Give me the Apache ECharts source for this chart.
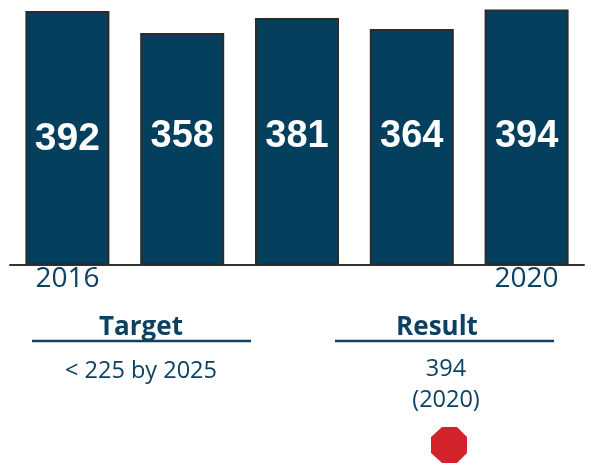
<!DOCTYPE html>
<html><head><meta charset="utf-8">
<style>html,body{margin:0;padding:0;background:#fff}#c{width:592px;height:474px}</style>
<script src="https://cdn.jsdelivr.net/npm/echarts@6/dist/echarts.min.js"></script>
</head><body><div id="c"></div>
<script>
const categories = ['2016','2017','2018','2019','2020'];
const shownYears = ['2016','2020'];
const values = [392,358,381,364,394];
const targetTitle = 'Target';
const targetText = '< 225 by 2025';
const resultTitle = 'Result';
const resultLines = ['394','(2020)'];
const navy = '#053f5e', ink = '#0c4161';
const font = '"Open Sans","Noto Sans",sans-serif';
const labelFont = '"Liberation Sans",Arial,sans-serif';
const chart = echarts.init(document.getElementById('c'), null, {renderer:'canvas'});
const txt = (x,y,text,size,weight) => ({type:'text',x,y,style:{text,fill:ink,font:(weight||'normal')+' '+size+'px '+font,textAlign:'center',textVerticalAlign:'middle'}});
const bigLabel = {fontSize:39,distance:106};
chart.setOption({
  animation:false,
  grid:{left:10,top:7,width:574,height:258},
  xAxis:{type:'category',data:categories,
    axisLine:{lineStyle:{color:'#333333',width:2}},axisTick:{show:false},
    axisLabel:{interval:0,margin:0,color:ink,fontSize:28,fontFamily:font,lineHeight:28,
      formatter:v=>shownYears.includes(v)?v:''}},
  yAxis:{type:'value',min:0,max:398,show:false,splitLine:{show:false}},
  series:[{type:'bar',barWidth:84,
    data:values.map((value,i)=>i===0?{value,label:bigLabel}:value),
    itemStyle:{color:navy,borderColor:'#2b2b2b',borderWidth:2},
    label:{show:true,position:'insideBottom',distance:109,color:'#fff',fontFamily:labelFont,fontWeight:'bold',fontSize:38}}],
  graphic:[
    txt(141,328,targetTitle,26,'bold'),
    {type:'line',shape:{x1:32,y1:341,x2:251,y2:341},style:{stroke:ink,lineWidth:2.5}},
    txt(141,371,targetText,23.5),
    txt(437,328,resultTitle,26,'bold'),
    {type:'line',shape:{x1:335,y1:341,x2:554,y2:341},style:{stroke:ink,lineWidth:2.5}},
    txt(446,369,resultLines[0],23.5),
    txt(446,400,resultLines[1],23.5),
    {type:'polygon',shape:{points:[[442,427],[457,427],[467,437],[467,453],[457,463],[442,463],[431,453],[431,437]]},style:{fill:'#d2232a'}}
  ]
});
</script></body></html>
